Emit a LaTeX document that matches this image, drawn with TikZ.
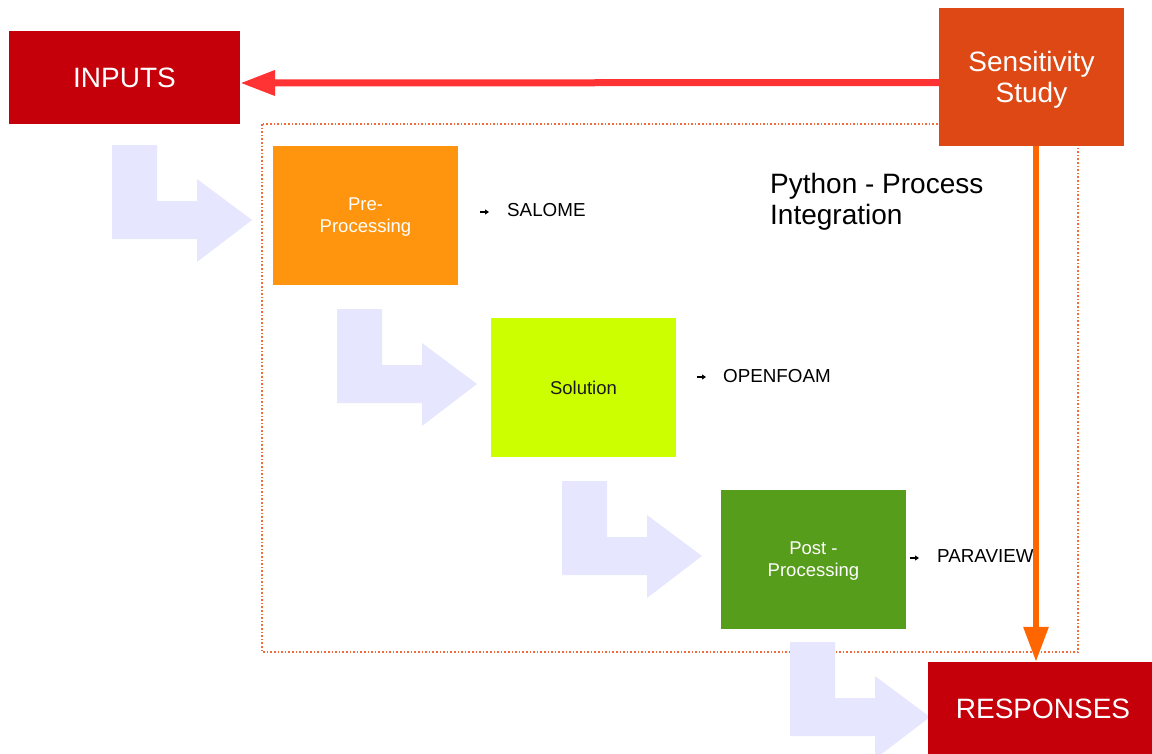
\documentclass[tikz,border=0pt]{standalone}
\usepackage{fontspec}
\setmainfont{Liberation Sans}
\usetikzlibrary{arrows.meta,calc}

\definecolor{deepred}{HTML}{C5000B}
\definecolor{rust}{HTML}{DD4814}
\definecolor{preorange}{HTML}{FF950E}
\definecolor{lime}{HTML}{CCFF00}
\definecolor{leaf}{HTML}{579D1C}
\definecolor{lavender}{HTML}{E6E6FF}
\definecolor{brightred}{HTML}{FF3333}
\definecolor{vivorange}{HTML}{FF6600}
\definecolor{dotorange}{HTML}{F26B3A}

\tikzset{
  bigbox/.style={rectangle, inner sep=0pt, text=white, text depth=0pt,
    font=\fontsize{28}{31}\selectfont, align=center},
  stagebox/.style={rectangle, inner sep=0pt, minimum width=185pt, minimum height=139pt,
    text depth=0pt, font=\fontsize{18.5}{22}\selectfont, align=center},
  toollabel/.style={inner sep=0pt, anchor=west, font=\fontsize{18.8}{22}\selectfont},
  bullet/.style={line width=1.3pt, -{Triangle[length=4pt,width=5pt]}},
  bigarrow/.style={line width=7pt, -{Triangle[length=35pt,width=24pt]}},
  bent/.pic={\fill[lavender] (0,0) -- (45,0) -- (45,56) -- (85,56) -- (85,34)
    -- (140,75) -- (85,117) -- (85,94) -- (0,94) -- cycle;}
}

\begin{document}
\begin{tikzpicture}[x=1pt, y=-1pt]
\useasboundingbox (0,0) rectangle (1152,753);
\clip (0,0) rectangle (1152,753);

% process integration frame
\draw[dotorange, line width=1.4pt, dash pattern=on 1.6pt off 2pt]
  (262,124) rectangle (1078,652);

% bent flow arrows between stages
\pic at (112,145) {bent};
\pic at (337,309) {bent};
\pic at (562,481) {bent};
\pic at (790,642) {bent};

% main boxes
\node[bigbox, fill=deepred, minimum width=231pt, minimum height=93pt] (inputs) at (124.5,77.5) {INPUTS};
\node[bigbox, fill=rust, minimum width=185pt, minimum height=138pt] (sens) at (1031.5,77) {Sensitivity\\Study};
\node[bigbox, fill=deepred, minimum width=230pt, minimum height=94pt] (resp) at (1043,709) {RESPONSES};

% stages
\node[stagebox, fill=preorange, text=white] (pre) at (365.5,215.5) {Pre-\\Processing};
\node[stagebox, fill=lime, text=black!90] (sol) at (583.5,387.5) {Solution};
\node[stagebox, fill=leaf, text=white] (post) at (813.5,559.5) {Post -\\Processing};

% tools
\node[toollabel] (salome) at (507,210) {SALOME};
\node[toollabel] (foam) at (723,376) {OPENFOAM};
\node[toollabel] (pview) at (937,556) {PARAVIEW};
\draw[bullet] ([xshift=-27pt,yshift=-2pt]salome.west) -- ++(9,0);
\draw[bullet] ([xshift=-26pt,yshift=-1pt]foam.west) -- ++(9,0);
\draw[bullet] ([xshift=-27pt,yshift=-2pt]pview.west) -- ++(9,0);

% frame title
\node[inner sep=0pt, anchor=west, align=left, font=\fontsize{28}{31}\selectfont] (title) at (770,202)
  {Python - Process\\Integration};

% feedback and output arrows
\draw[bigarrow, brightred] ([yshift=-5.5pt]sens.west) -- ([yshift=-5.5pt]inputs.east);
\coordinate (otop) at ($(sens.south)+(4.5,0)$);
\draw[bigarrow, vivorange, line width=6pt] (otop) -- (otop |- resp.north);
\end{tikzpicture}
\end{document}
